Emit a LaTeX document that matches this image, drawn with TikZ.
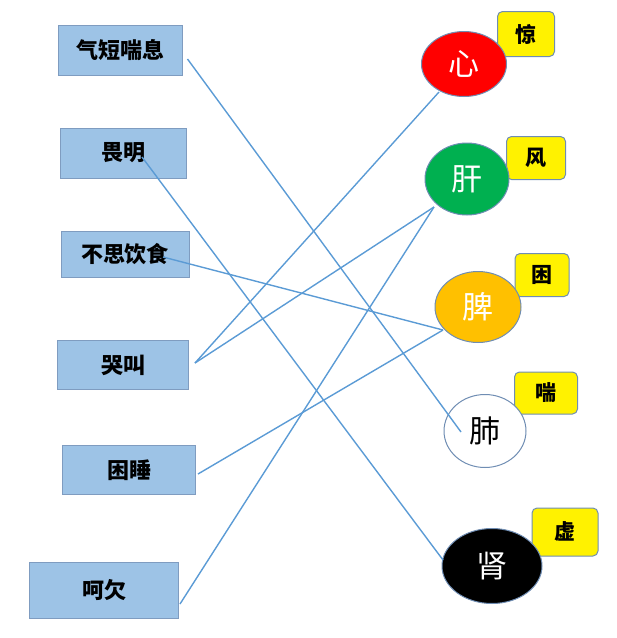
\documentclass[tikz,border=0pt]{standalone}
\usepackage{fontspec}
\setmainfont{Noto Sans CJK SC}
\usetikzlibrary{shapes.geometric}
\definecolor{boxblue}{HTML}{9DC3E6}
\definecolor{boxedge}{HTML}{7F9CC0}
\definecolor{zangedge}{HTML}{6F8DB3}
\definecolor{linkblue}{HTML}{5B9BD5}
\definecolor{xinred}{HTML}{FF0000}
\definecolor{gangreen}{HTML}{00B050}
\definecolor{piorange}{HTML}{FFC000}
\tikzset{
  sym/.style={draw=boxedge,fill=boxblue,line width=1pt,inner sep=0pt,
    font=\fontsize{22}{22}\selectfont\bfseries},
  zang/.style={ellipse,draw=zangedge,line width=1pt,inner sep=0pt,
    font=\fontsize{31}{31}\selectfont},
  zhi/.style={draw=zangedge,fill=yellow,line width=1pt,rounded corners=5pt,
    inner sep=0pt,font=\fontsize{21}{21}\selectfont\bfseries},
  link/.style={draw=linkblue,line width=1.4pt}
}
\begin{document}
\begin{tikzpicture}[x=1pt,y=-1pt]
    \useasboundingbox (0,0) rectangle (617,638);
    % symptoms
    \node[sym,minimum width=124pt,minimum height=50pt] (qd) at (120,50) {气短喘息};
    \node[sym,minimum width=126pt,minimum height=50pt] (wm) at (123,153) {畏明};
    \node[sym,minimum width=128pt,minimum height=46pt] (bs) at (125,254) {不思饮食};
    \node[sym,minimum width=131pt,minimum height=49pt] (kj) at (123,365) {哭叫};
    \node[sym,minimum width=133pt,minimum height=49pt] (ks) at (129,470) {困睡};
    \node[sym,minimum width=149pt,minimum height=56pt] (hq) at (104,590) {呵欠};

    % labels (behind the organs)
    \node[zhi,minimum width=57pt,minimum height=45pt] (jing) at (526,34) {惊};
    \node[zhi,minimum width=59pt,minimum height=43pt] (feng) at (536,158) {风};
    \node[zhi,minimum width=54pt,minimum height=43pt] (kun) at (542,275) {困};
    \node[zhi,minimum width=63pt,minimum height=42pt] (chuan) at (546,393) {喘};
    \node[zhi,minimum width=66pt,minimum height=48pt] (xu) at (565,532) {虚};

    % organs
    \node[zang,fill=xinred,text=white,minimum width=85pt,minimum height=65pt] (xin) at (464,64) {心};
    \node[zang,fill=gangreen,text=white,minimum width=84pt,minimum height=72pt] (gan) at (467,179) {肝};
    \node[zang,fill=piorange,text=white,minimum width=86pt,minimum height=71pt] (pi) at (478,307) {脾};
    \node[zang,fill=white,text=black,minimum width=82pt,minimum height=73pt] (fei) at (485,431) {肺};
    \node[zang,fill=black,text=white,minimum width=100pt,minimum height=75pt] (shen) at (492,566) {肾};

    % links
    \path[link] ([shift={(5,9)}]qd.east) -- ([shift={(-24,1)}]fei.center);
    \path[link] ([shift={(19,4)}]wm.center) -- ([shift={(-49,-6)}]shen.center);
    \path[link] ([shift={(38,3)}]bs.center) -- ([shift={(-35,23)}]pi.center);
    \path[link] ([shift={(6,-2)}]kj.east) -- ([shift={(-25,28)}]xin.center);
    \path[link] ([shift={(6,-2)}]kj.east) -- ([shift={(-33,28)}]gan.center);
    \path[link] ([shift={(2,4)}]ks.east) -- ([shift={(-35,23)}]pi.center);
    \path[link] ([shift={(1,14)}]hq.east) -- ([shift={(-33,28)}]gan.center);
\end{tikzpicture}
\end{document}
